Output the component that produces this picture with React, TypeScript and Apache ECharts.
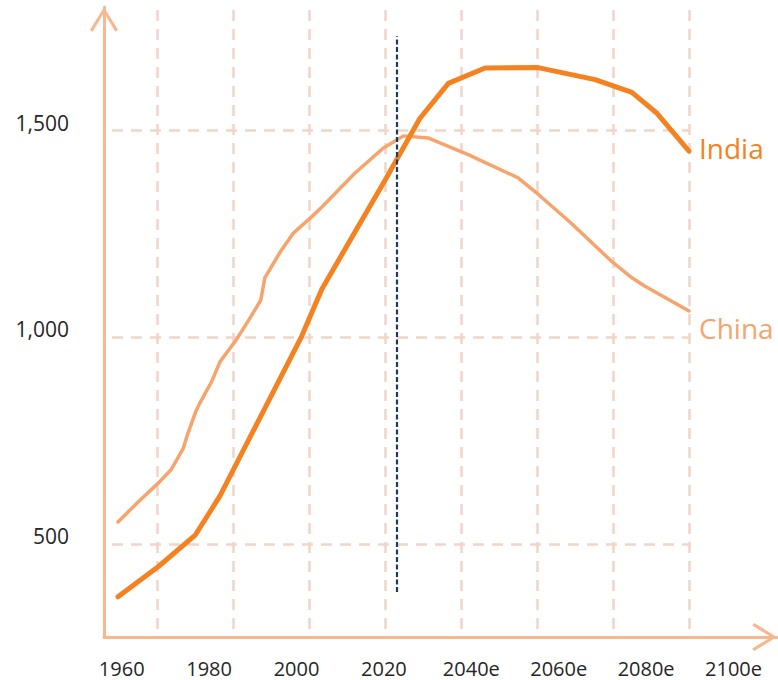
import { useEffect, useRef } from 'react';
import * as echarts from 'echarts';

// Tick labels
const tickYears = [1960, 1980, 2000, 2020, 2040, 2060, 2080, 2100];
const yTicks = [500, 1000, 1500];

// India population (millions)
const indiaYears = [1960, 1970, 1979, 1985, 2005, 2010, 2026, 2034, 2041, 2050, 2063, 2077, 2086, 2092, 2100];
const indiaValues = [373, 447, 523, 617, 1002, 1117, 1389, 1529, 1614, 1651, 1652, 1623, 1592, 1543, 1450];

// China population (millions)
const chinaYears = [1960, 1965, 1970, 1973, 1976, 1977, 1979, 1980, 1983, 1985, 1989, 1992, 1995, 1996, 2000, 2003, 2007, 2010, 2018, 2025, 2030, 2036, 2046, 2058, 2063, 2071, 2081, 2086, 2089, 2100];
const chinaValues = [554, 603, 649, 680, 732, 764, 819, 840, 894, 941, 994, 1041, 1090, 1144, 1210, 1252, 1287, 1315, 1396, 1457, 1487, 1482, 1441, 1386, 1346, 1277, 1184, 1144, 1125, 1064];

// Vertical marker (dashed navy line)
const markerYear = 2028.4;
const markerRange = [385, 1728];

const FONT = '"Open Sans", "Liberation Sans", sans-serif';
const CHEVRON = 'path://M14,0 L28,22.5 L25.4,24.5 L14,5.5 L2.6,24.5 L0,22.5 Z';

export default function App() {
  const ref = useRef<HTMLDivElement>(null);
  useEffect(() => {
    const chart = echarts.init(ref.current!, null, { renderer: 'svg' });
    const gridStep = 18.61;
    const gridYears = Array.from({ length: 8 }, (_, i) => 2100 - gridStep * (7 - i));
    const axisColor = '#F9B78E';
    const gridColor = '#EFD6C8';
    const labelColor = '#262626';
    const dashed = { color: gridColor, width: 2.5, type: [11, 8] as number[] };
    const axisLine = {
      show: true,
      onZero: false,
      lineStyle: { color: axisColor, width: 3 },
      symbol: ['none', CHEVRON],
      symbolSize: [28, 25],
      symbolOffset: [0, -12.5],
    };

    chart.setOption({
      animation: false,
      grid: [
        { left: 104, right: 1, top: 7, bottom: 43 },
        { left: 112, right: 89, top: 10, bottom: 43 },
      ],
      xAxis: [
        {
          gridIndex: 0,
          type: 'value',
          min: 1955.95,
          max: 2109.95,
          axisLine,
          axisTick: { show: false },
          splitLine: { show: false },
          axisLabel: {
            customValues: tickYears,
            formatter: (v: number) => (v > 2020 ? `${v}e` : `${v}`),
            margin: 21,
            fontSize: 20,
            lineHeight: 20,
            color: labelColor,
            fontFamily: FONT,
          },
          z: 5,
        },
        {
          gridIndex: 1,
          type: 'value',
          min: 1958.53,
          max: 2100,
          axisLine: { show: false },
          axisTick: { show: false, customValues: gridYears },
          axisLabel: { show: false },
          splitLine: { show: true, lineStyle: dashed },
        },
      ],
      yAxis: [
        {
          gridIndex: 0,
          type: 'value',
          min: 0,
          max: 1,
          axisLine,
          axisTick: { show: false },
          axisLabel: { show: false },
          splitLine: { show: false },
          z: 5,
        },
        {
          gridIndex: 1,
          type: 'value',
          min: 276,
          max: 1791.2,
          axisLine: { show: false },
          axisTick: { show: false, customValues: yTicks },
          axisLabel: {
            customValues: yTicks,
            formatter: (v: number) => v.toLocaleString('en-US'),
            margin: 43,
            verticalAlign: 'bottom',
            lineHeight: 16,
            fontSize: 21,
            color: labelColor,
            fontFamily: FONT,
          },
          splitLine: { show: true, lineStyle: dashed },
        },
      ],
      series: [
        {
          type: 'line',
          name: 'China',
          xAxisIndex: 1,
          yAxisIndex: 1,
          data: chinaYears.map((y, i) => [y, chinaValues[i]]),
          symbol: 'none',
          showSymbol: false,
          lineStyle: { color: '#F7A46C', width: 3.5, join: 'round', cap: 'round' },
          itemStyle: { color: '#F7A46C' },
          endLabel: {
            show: true,
            formatter: 'China',
            color: '#F5A46C',
            fontSize: 28,
            fontFamily: FONT,
            distance: 10,
            offset: [0, 17],
          },
          z: 3,
        },
        {
          type: 'line',
          name: 'India',
          xAxisIndex: 1,
          yAxisIndex: 1,
          data: indiaYears.map((y, i) => [y, indiaValues[i]]),
          symbol: 'none',
          showSymbol: false,
          lineStyle: { color: '#F58220', width: 5, join: 'round', cap: 'round' },
          itemStyle: { color: '#F58220' },
          endLabel: {
            show: true,
            formatter: 'India',
            color: '#F58220',
            fontSize: 28,
            fontFamily: FONT,
            distance: 10,
            offset: [0, -3],
          },
          markLine: {
            silent: true,
            symbol: ['none', 'none'],
            label: { show: false },
            lineStyle: { color: '#1F3B5C', width: 2.2, type: [5, 2.5] },
            data: [[{ coord: [markerYear, markerRange[0]] }, { coord: [markerYear, markerRange[1]] }]],
          },
          z: 4,
        },
      ],
    });
    return () => chart.dispose();
  }, []);
  return <div ref={ref} style={{ position: 'absolute', left: 0, top: 0, width: 778, height: 680 }} />;
}
